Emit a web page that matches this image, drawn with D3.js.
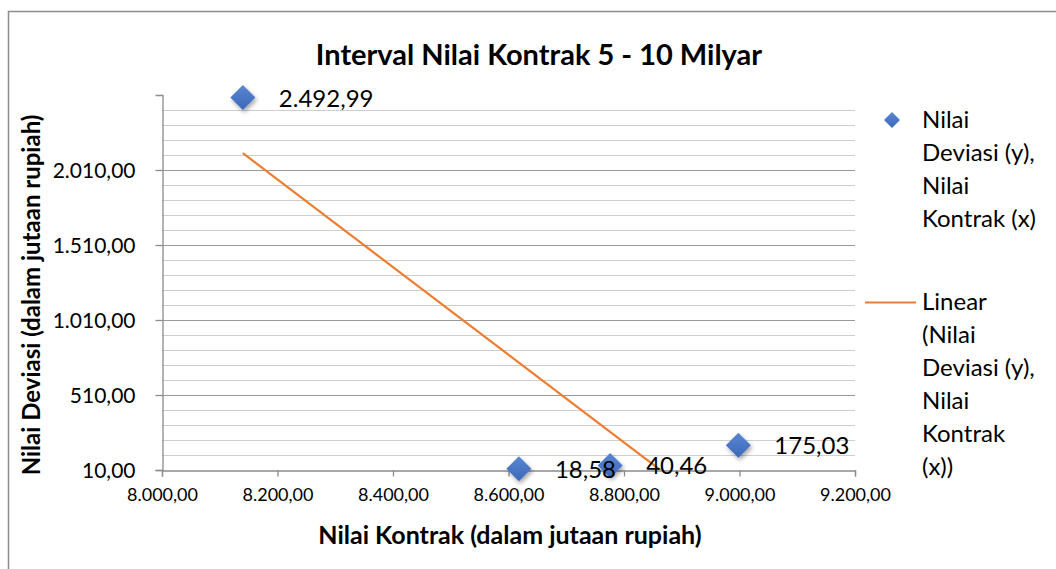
<!DOCTYPE html>
<html>
<head>
<meta charset="utf-8">
<script src="https://cdn.jsdelivr.net/npm/d3@7"></script>
<style>
  body { margin: 0; background: #fff; }
  text { font-family: Lato, "Noto Sans", sans-serif; fill: #000; }
</style>
</head>
<body>
<svg id="chart" width="1056" height="569"></svg>
<script>
// data
const kontrak = [8140, 8618, 8776, 8998]        // x, juta rupiah
const deviasi = [2492.99, 18.58, 40.46, 175.03] // y, juta rupiah

const xTicks = [8000, 8200, 8400, 8600, 8800, 9000, 9200]
const yTicks = [10, 510, 1010, 1510, 2010]
const yMinor = d3.range(110, 2500, 100).filter(v => !yTicks.includes(v))

const titleText = "Interval Nilai Kontrak 5 - 10 Milyar"
const xTitle = "Nilai Kontrak (dalam jutaan rupiah)"
const yTitle = "Nilai Deviasi (dalam jutaan rupiah)"
const legendSeries = ["Nilai", "Deviasi (y),", "Nilai", "Kontrak (x)"]
const legendTrend = ["Linear", "(Nilai", "Deviasi (y),", "Nilai", "Kontrak", "(x))"]

const idLocale = d3.formatLocale({decimal: ",", thousands: ".", grouping: [3], currency: ["Rp", ""]})
const fmt = idLocale.format(",.2f")

const svg = d3.select("#chart")
const plotL = 162, plotR = 855, plotT = 95, plotB = 470

const x = d3.scaleLinear().domain([8000, 9200]).range([plotL, plotR])
const y = d3.scaleLinear().domain([10, 2510]).range([plotB, plotT])

// chart frame
svg.append("rect").attr("x", 8.5).attr("y", 11.5).attr("width", 1100).attr("height", 600)
  .attr("fill", "#fff").attr("stroke", "#8c8c8c").attr("stroke-width", 1.5)

const defs = svg.append("defs")
defs.append("clipPath").attr("id", "plotClip").append("rect")
  .attr("x", plotL).attr("y", plotT).attr("width", plotR - plotL).attr("height", plotB - plotT)
const shadow = defs.append("filter").attr("id", "shadow").attr("x", "-50%").attr("y", "-50%").attr("width", "200%").attr("height", "200%")
shadow.append("feDropShadow").attr("dx", 1.5).attr("dy", 2.5).attr("stdDeviation", 2)
  .attr("flood-color", "#000").attr("flood-opacity", 0.35)
const grad = defs.append("linearGradient").attr("id", "diamondFill").attr("x1", 0).attr("y1", 0).attr("x2", 0).attr("y2", 1)
grad.append("stop").attr("offset", "0%").attr("stop-color", "#5a86d0")
grad.append("stop").attr("offset", "100%").attr("stop-color", "#3c68bb")

// gridlines
svg.append("g").selectAll("line").data(yMinor).join("line")
  .attr("x1", plotL).attr("x2", plotR)
  .attr("y1", d => Math.round(y(d)) + 0.5).attr("y2", d => Math.round(y(d)) + 0.5)
  .attr("stroke", "#cfcfcf").attr("stroke-width", 1.2)
svg.append("g").selectAll("line").data(yTicks.slice(1)).join("line")
  .attr("x1", plotL).attr("x2", plotR)
  .attr("y1", d => Math.round(y(d)) + 0.5).attr("y2", d => Math.round(y(d)) + 0.5)
  .attr("stroke", "#9a9a9a").attr("stroke-width", 1.2)

// axes
const yAxis = svg.append("g").attr("transform", `translate(${plotL + 0.5},0)`)
  .call(d3.axisLeft(y).tickValues(yTicks).tickFormat(fmt).tickSize(7).tickPadding(20))
const xAxis = svg.append("g").attr("transform", `translate(0,${plotB + 0.5})`)
  .call(d3.axisBottom(x).tickValues(xTicks).tickFormat(fmt).tickSize(6).tickPadding(12))
;[yAxis, xAxis].forEach(a => {
  a.select(".domain").attr("stroke", "#8c8c8c").attr("stroke-width", 1.3)
  a.selectAll(".tick line").attr("stroke", "#8c8c8c").attr("stroke-width", 1.3)
  a.selectAll("text").attr("font-family", "Lato").attr("fill", "#000")
})
yAxis.selectAll("text").attr("font-size", 21).attr("dy", "0.36em")
xAxis.selectAll("text").attr("font-size", 18)

// linear trendline (least squares), clipped to the plot area like Excel
const mx = d3.mean(kontrak), my = d3.mean(deviasi)
const slope = d3.sum(kontrak, (v, i) => (v - mx) * (deviasi[i] - my)) / d3.sum(kontrak, v => (v - mx) * (v - mx))
const intercept = my - slope * mx
const trendX = d3.extent(kontrak)
svg.append("path")
  .attr("clip-path", "url(#plotClip)")
  .attr("d", d3.line().x(d => x(d)).y(d => y(slope * d + intercept))(trendX))
  .attr("fill", "none").attr("stroke", "#ed7d31").attr("stroke-width", 2.2)

// points
const diamond = (cx, cy, r) => `M${cx},${cy - r}L${cx + r},${cy}L${cx},${cy + r}L${cx - r},${cy}Z`
const pts = kontrak.map((v, i) => ({x: v, y: deviasi[i]}))
svg.append("g").selectAll("path").data(pts).join("path")
  .attr("d", d => diamond(x(d.x), y(d.y), 12.5))
  .attr("fill", "url(#diamondFill)").attr("filter", "url(#shadow)")

// data labels
svg.append("g").selectAll("text").data(pts).join("text")
  .attr("x", d => x(d.x) + 36).attr("y", d => y(d.y) + 9)
  .attr("font-size", 24).text(d => fmt(d.y))

// titles
svg.append("text").attr("x", 539).attr("y", 65).attr("text-anchor", "middle")
  .attr("font-size", 29).attr("font-weight", "bold").text(titleText)
svg.append("text").attr("x", 510).attr("y", 544).attr("text-anchor", "middle")
  .attr("font-size", 25).attr("font-weight", "bold").text(xTitle)
svg.append("text").attr("transform", "translate(40,295) rotate(-90)").attr("text-anchor", "middle")
  .attr("font-size", 24).attr("font-weight", "bold").text(yTitle)

// legend
const lg = svg.append("g")
lg.append("path").attr("d", diamond(892, 120, 8)).attr("fill", "url(#diamondFill)")
lg.append("text").attr("font-size", 24).selectAll("tspan").data(legendSeries).join("tspan")
  .attr("x", 922).attr("y", (d, i) => 128 + i * 33).text(d => d)
lg.append("line").attr("x1", 865).attr("x2", 916).attr("y1", 302.5).attr("y2", 302.5)
  .attr("stroke", "#ed7d31").attr("stroke-width", 2.2)
lg.append("text").attr("font-size", 24).selectAll("tspan").data(legendTrend).join("tspan")
  .attr("x", 922).attr("y", (d, i) => 310 + i * 33).text(d => d)
</script>
</body>
</html>
